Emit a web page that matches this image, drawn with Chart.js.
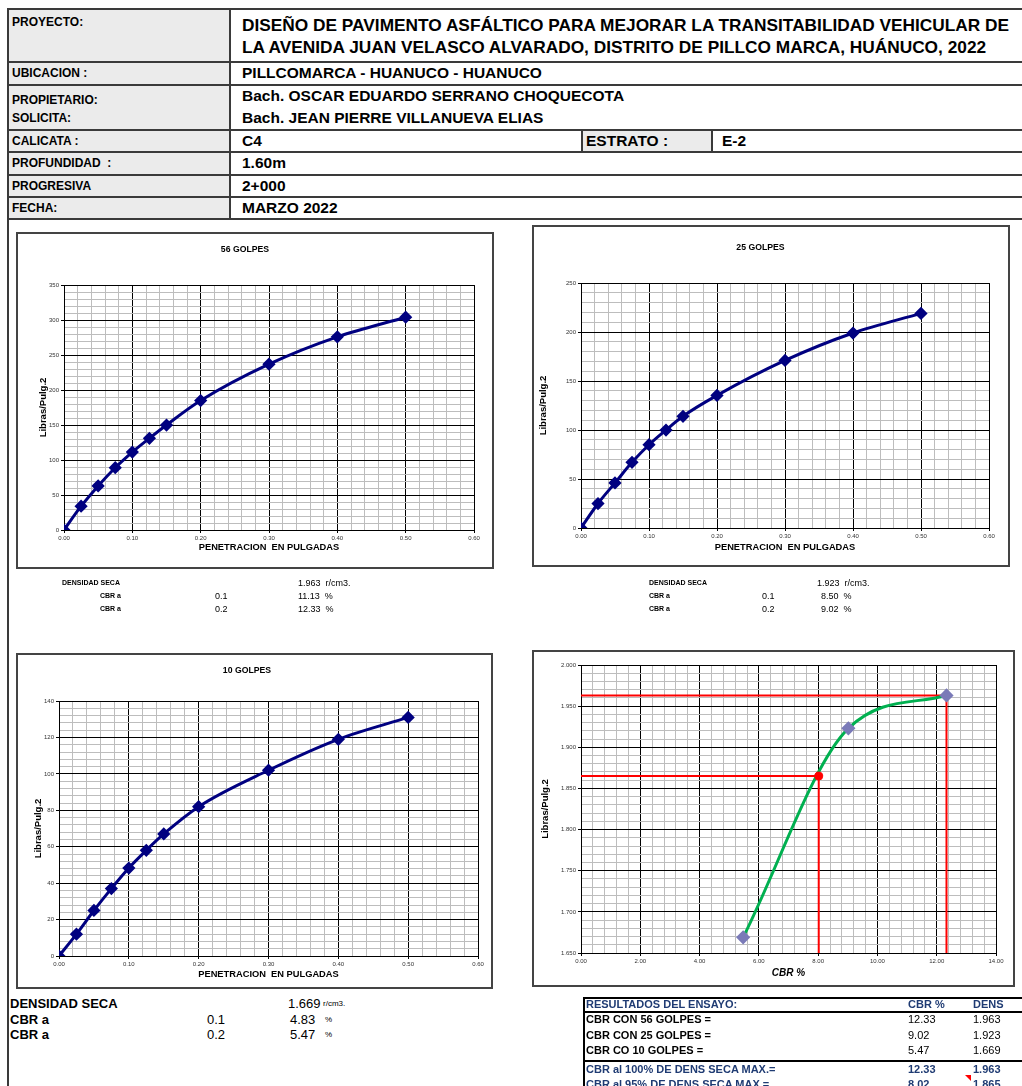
<!DOCTYPE html>
<html>
<head>
<meta charset="utf-8">
<script src="https://cdn.jsdelivr.net/npm/chart.js@4.4.1/dist/chart.umd.min.js"></script>
<style>
body{margin:0;width:1022px;height:1086px;overflow:hidden;background:#fff;position:relative;font-family:"Liberation Sans",Arial,sans-serif;color:#000}
.a{position:absolute;white-space:nowrap}
.g{position:absolute;background:#ebebeb}
.h{position:absolute;left:8px;width:1014px;height:2px;background:#3a3a3a}
.v{position:absolute;width:2px;background:#3a3a3a}
.lb{font:bold 12px/14px "Liberation Sans",Arial,sans-serif}
.vl{font:bold 15.5px/16px "Liberation Sans",Arial,sans-serif}
.box{position:absolute;box-sizing:border-box;border:2px solid #444;pointer-events:none}
canvas{position:absolute}
.s7{font:bold 7px/8px "Liberation Sans",Arial,sans-serif}
.n9{font:9px/10px "Liberation Sans",Arial,sans-serif}
.b13{font:bold 13px/16px "Liberation Sans",Arial,sans-serif}
.n13{font:13px/16px "Liberation Sans",Arial,sans-serif}
.n8{font:8px/10px "Liberation Sans",Arial,sans-serif}
.r11{font:11px/14px "Liberation Sans",Arial,sans-serif}
.rb{font:bold 11px/14px "Liberation Sans",Arial,sans-serif}
.blue{color:#1f3b73}
</style>
</head>
<body>
<!-- encabezado -->
<div class="g" style="left:8px;top:9px;width:222px;height:210px"></div>
<div class="g" style="left:582px;top:130px;width:130px;height:22px"></div>
<div class="h" style="top:8px"></div>
<div class="h" style="top:61px"></div>
<div class="h" style="top:84px"></div>
<div class="h" style="top:129px"></div>
<div class="h" style="top:151px"></div>
<div class="h" style="top:174px"></div>
<div class="h" style="top:196px"></div>
<div class="h" style="top:218px"></div>
<div class="v" style="left:7px;top:8px;height:1078px"></div>
<div class="v" style="left:229px;top:8px;height:211px"></div>
<div class="v" style="left:581px;top:129px;height:23px"></div>
<div class="v" style="left:711px;top:129px;height:23px"></div>

<div class="a lb" style="left:12px;top:15px">PROYECTO:</div>
<div class="a lb" style="left:12px;top:66px">UBICACION :</div>
<div class="a lb" style="left:12px;top:93px">PROPIETARIO:</div>
<div class="a lb" style="left:12px;top:111px">SOLICITA:</div>
<div class="a lb" style="left:12px;top:134px">CALICATA :</div>
<div class="a lb" style="left:12px;top:156px">PROFUNDIDAD &nbsp;:</div>
<div class="a lb" style="left:12px;top:179px">PROGRESIVA</div>
<div class="a lb" style="left:12px;top:201px">FECHA:</div>

<div class="a" style="left:242px;top:14px;font:bold 17.3px/22px 'Liberation Sans',Arial,sans-serif">DISEÑO DE PAVIMENTO ASFÁLTICO PARA MEJORAR LA TRANSITABILIDAD VEHICULAR DE<br>LA AVENIDA JUAN VELASCO ALVARADO, DISTRITO DE PILLCO MARCA, HUÁNUCO, 2022</div>
<div class="a vl" style="left:242px;top:65px">PILLCOMARCA - HUANUCO - HUANUCO</div>
<div class="a vl" style="left:242px;top:88px">Bach. OSCAR EDUARDO SERRANO CHOQUECOTA</div>
<div class="a vl" style="left:242px;top:110px">Bach. JEAN PIERRE VILLANUEVA ELIAS</div>
<div class="a vl" style="left:242px;top:133px">C4</div>
<div class="a vl" style="left:586px;top:133px">ESTRATO :</div>
<div class="a vl" style="left:722px;top:133px">E-2</div>
<div class="a vl" style="left:242px;top:155px">1.60m</div>
<div class="a vl" style="left:242px;top:178px">2+000</div>
<div class="a vl" style="left:242px;top:200px">MARZO 2022</div>

<!-- graficos -->
<canvas id="g56" width="478" height="337" style="left:16px;top:232px"></canvas>
<div class="box" style="left:16px;top:232px;width:478px;height:337px"></div>
<canvas id="g25" width="478" height="342" style="left:532px;top:225px"></canvas>
<div class="box" style="left:532px;top:225px;width:478px;height:342px"></div>
<canvas id="g10" width="477" height="336" style="left:16px;top:653px"></canvas>
<div class="box" style="left:16px;top:653px;width:477px;height:336px"></div>
<canvas id="gcbr" width="483" height="337" style="left:532px;top:650px"></canvas>
<div class="box" style="left:532px;top:650px;width:483px;height:337px"></div>

<!-- textos 56 -->
<div class="a s7" style="left:62px;top:579px">DENSIDAD SECA</div>
<div class="a s7" style="left:100px;top:592px">CBR a</div>
<div class="a s7" style="left:100px;top:605px">CBR a</div>
<div class="a n9" style="left:215px;top:591px">0.1</div>
<div class="a n9" style="left:215px;top:604px">0.2</div>
<div class="a n9" style="left:298px;top:578px">1.963 &nbsp;r/cm3.</div>
<div class="a n9" style="left:298px;top:591px">11.13 &nbsp;%</div>
<div class="a n9" style="left:298px;top:604px">12.33 &nbsp;%</div>
<!-- textos 25 -->
<div class="a s7" style="left:649px;top:579px">DENSIDAD SECA</div>
<div class="a s7" style="left:649px;top:592px">CBR a</div>
<div class="a s7" style="left:649px;top:605px">CBR a</div>
<div class="a n9" style="left:762px;top:591px">0.1</div>
<div class="a n9" style="left:762px;top:604px">0.2</div>
<div class="a n9" style="left:817px;top:578px">1.923 &nbsp;r/cm3.</div>
<div class="a n9" style="left:821px;top:591px">8.50 &nbsp;%</div>
<div class="a n9" style="left:821px;top:604px">9.02 &nbsp;%</div>
<!-- textos 10 -->
<div class="a b13" style="left:10px;top:996px">DENSIDAD SECA</div>
<div class="a b13" style="left:10px;top:1012px">CBR a</div>
<div class="a b13" style="left:10px;top:1027px">CBR a</div>
<div class="a n13" style="left:207px;top:1012px">0.1</div>
<div class="a n13" style="left:207px;top:1027px">0.2</div>
<div class="a n13" style="left:288px;top:996px">1.669</div>
<div class="a n8" style="left:323px;top:999px">r/cm3.</div>
<div class="a n13" style="left:290px;top:1012px">4.83</div>
<div class="a n8" style="left:325px;top:1015px">%</div>
<div class="a n13" style="left:290px;top:1027px">5.47</div>
<div class="a n8" style="left:325px;top:1030px">%</div>

<!-- resultados -->
<div style="position:absolute;left:583px;top:997px;width:460px;height:110px;box-sizing:border-box;border:2px solid #000"></div>
<div style="position:absolute;left:583px;top:1011px;width:460px;height:2px;background:#000"></div>
<div style="position:absolute;left:583px;top:1060px;width:460px;height:2px;background:#000"></div>
<div class="a rb blue" style="left:586px;top:997px">RESULTADOS DEL ENSAYO:</div>
<div class="a rb blue" style="left:908px;top:997px">CBR %</div>
<div class="a rb blue" style="left:973px;top:997px">DENS</div>
<div class="a rb" style="left:586px;top:1012px">CBR CON 56 GOLPES =</div>
<div class="a r11" style="left:908px;top:1012px">12.33</div>
<div class="a r11" style="left:973px;top:1012px">1.963</div>
<div class="a rb" style="left:586px;top:1028px">CBR CON 25 GOLPES =</div>
<div class="a r11" style="left:908px;top:1028px">9.02</div>
<div class="a r11" style="left:973px;top:1028px">1.923</div>
<div class="a rb" style="left:586px;top:1043px">CBR CO 10 GOLPES =</div>
<div class="a r11" style="left:908px;top:1043px">5.47</div>
<div class="a r11" style="left:973px;top:1043px">1.669</div>
<div class="a rb blue" style="left:586px;top:1062px">CBR al 100% DE DENS SECA MAX.=</div>
<div class="a rb blue" style="left:908px;top:1062px">12.33</div>
<div class="a rb blue" style="left:973px;top:1062px">1.963</div>
<div class="a rb blue" style="left:586px;top:1077px">CBR al 95% DE DENS SECA MAX.=</div>
<div class="a rb blue" style="left:908px;top:1077px">8.02</div>
<div class="a rb blue" style="left:973px;top:1077px">1.865</div>
<div style="position:absolute;left:965px;top:1075px;width:0;height:0;border-top:6px solid #ff0000;border-left:6px solid transparent"></div>

<script>
// penetracion (pulg) y cargas (lb/pulg2) por golpes
const penX = [0, 0.025, 0.05, 0.075, 0.1, 0.125, 0.15, 0.2, 0.3, 0.4, 0.5];
const load56 = [0, 34, 63, 89, 111.3, 131, 150, 185, 237, 276, 304];
const load25 = [0, 25, 46, 67, 85, 100, 114, 135.3, 171, 199, 219];
const load10 = [0, 12, 25, 37, 48.3, 58, 67, 82, 102, 119, 131];

// CBR vs densidad seca
const cbrVals = [5.47, 9.02, 12.33];
const densVals = [1.669, 1.923, 1.963];
const cbr100 = {cbr: 12.33, dens: 1.963};
const cbr95 = {cbr: 8.02, dens: 1.865};

const F = '"Liberation Sans", Arial, sans-serif';

function isMajor(v, major, min) {
  const k = (v - min) / major;
  return Math.abs(k - Math.round(k)) < 1e-6;
}

function axis(min, max, minor, major, dec, fit, horiz, title) {
  return {
    type: 'linear', min: min, max: max,
    afterFit: s => { if (horiz) s.height = fit; else s.width = fit; },
    ticks: {
      stepSize: minor, autoSkip: false, maxRotation: 0, minRotation: 0,
      color: '#333', font: {size: 6, family: F}, padding: 2,
      callback: v => isMajor(v, major, min) ? Number(v).toFixed(dec) : ''
    },
    grid: {
      color: c => isMajor(c.tick.value, major, min) ? '#000' : '#bdbdbd',
      tickColor: c => isMajor(c.tick.value, major, min) ? '#000' : 'rgba(0,0,0,0)',
      lineWidth: 1, tickLength: 3
    },
    border: {color: '#000', width: 1},
    title: title
  };
}

function golpesChart(id, name, loads, ymax, ystep, m, titleY, yTitleX, xTitleB) {
  new Chart(document.getElementById(id), {
    type: 'scatter',
    data: {
      datasets: [{
        data: penX.map((x, i) => ({x: x, y: loads[i]})),
        showLine: true,
        borderColor: '#000080', borderWidth: 3,
        cubicInterpolationMode: 'monotone',
        pointStyle: 'rectRot', pointRadius: 4.5,
        pointBackgroundColor: '#000080', pointBorderColor: '#000080'
      }]
    },
    options: {
      responsive: false, animation: false, events: [],
      layout: {padding: {left: 0, top: 0, right: m[2], bottom: 0}},
      plugins: {
        legend: {display: false}, tooltip: {enabled: false},
        title: {display: true, text: name, color: '#000',
          font: {size: 8.7, weight: 'bold', family: F},
          padding: {top: titleY - 5.2, bottom: m[1] - titleY - 5.2}}
      },
      scales: {
        x: axis(0, 0.6, 0.02, 0.1, 2, m[3], true,
          {display: true, text: 'PENETRACION  EN PULGADAS', color: '#000',
           font: {size: 9.3, weight: 'bold', family: F}, padding: {top: 0, bottom: xTitleB - 5.6}}),
        y: axis(0, ymax, ystep / 5, ystep, 0, m[0], false,
          {display: true, text: 'Libras/Pulg.2', color: '#000',
           font: {size: 9.5, weight: 'bold', family: F}, padding: {top: yTitleX - 5.7, bottom: 0}})
      }
    }
  });
}

golpesChart('g56', '56 GOLPES', load56, 350, 50, [48, 53, 20, 39], 18, 27, 22);
golpesChart('g25', '25 GOLPES', load25, 250, 50, [49, 58, 21, 39], 23, 11, 20);
golpesChart('g10', '10 GOLPES', load10, 140, 20, [43, 48, 15, 33], 18, 22, 15);

// grafico CBR - densidad
new Chart(document.getElementById('gcbr'), {
  type: 'scatter',
  data: {
    datasets: [
      {data: [{x: cbr95.cbr, y: cbr95.dens}], pointStyle: 'circle', pointRadius: 4,
       pointBackgroundColor: '#ff0000', pointBorderColor: '#ff0000'},
      {data: cbrVals.map((x, i) => ({x: x, y: densVals[i]})), showLine: true,
       borderColor: '#00b050', borderWidth: 3, cubicInterpolationMode: 'monotone',
       pointStyle: 'rectRot', pointRadius: 5,
       pointBackgroundColor: '#7a7ab8', pointBorderColor: '#7a7ab8'},
      {data: [{x: 0, y: cbr100.dens}, {x: cbr100.cbr, y: cbr100.dens}, {x: cbr100.cbr, y: 1.65}],
       showLine: true, borderColor: '#ff0000', borderWidth: 2, pointRadius: 0},
      {data: [{x: 0, y: cbr95.dens}, {x: cbr95.cbr, y: cbr95.dens}, {x: cbr95.cbr, y: 1.65}],
       showLine: true, borderColor: '#ff0000', borderWidth: 2, pointRadius: 0}
    ]
  },
  options: {
    responsive: false, animation: false, events: [],
    layout: {padding: {left: 0, top: 15, right: 19, bottom: 0}},
    plugins: {legend: {display: false}, tooltip: {enabled: false}},
    scales: {
      x: axis(0, 14, 0.4, 2, 2, 34, true,
        {display: true, text: 'CBR %', color: '#000',
         font: {size: 10, weight: 'bold', style: 'italic', family: F}, padding: {top: 0, bottom: 8}}),
      y: axis(1.65, 2.0, 0.01, 0.05, 3, 49, false,
        {display: true, text: 'Libras/Pulg.2', color: '#000',
         font: {size: 9.5, weight: 'bold', family: F}, padding: {top: 7.3, bottom: 0}})
    }
  }
});
</script>
</body>
</html>
